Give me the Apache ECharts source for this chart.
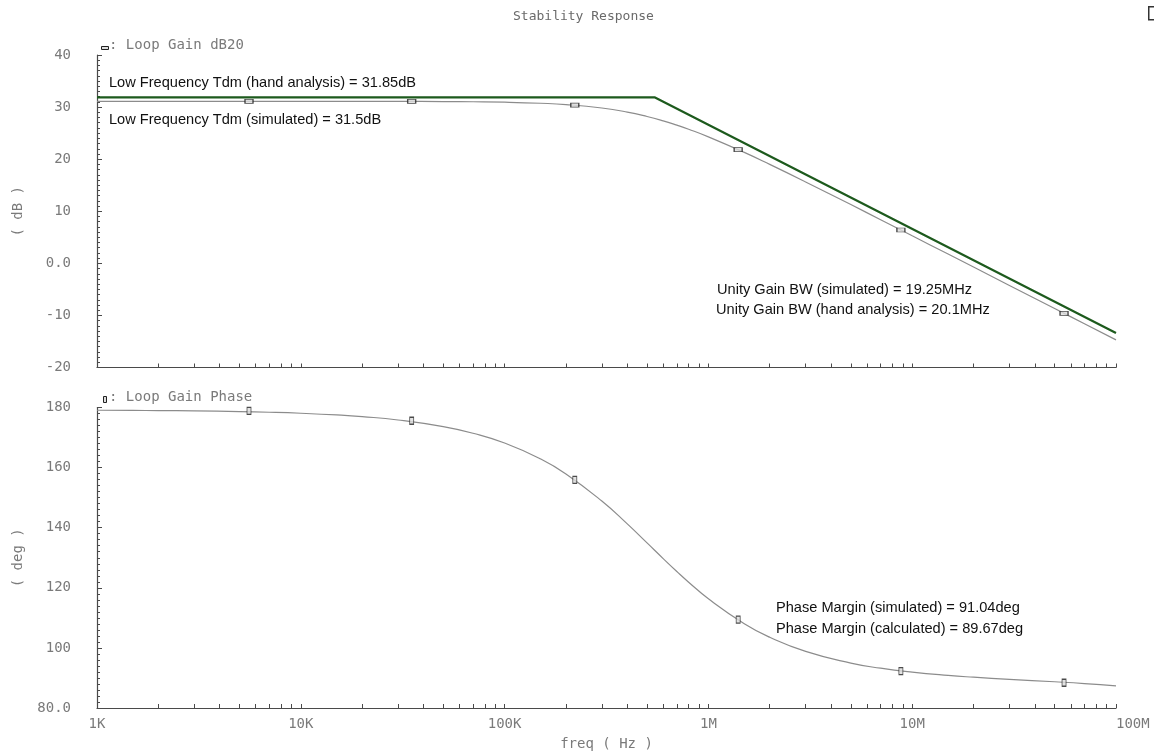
<!DOCTYPE html>
<html><head><meta charset="utf-8">
<script src="https://cdn.jsdelivr.net/npm/echarts@6/dist/echarts.min.js"></script>
<style>html,body{margin:0;padding:0;background:#fff}#c{width:1154px;height:752px}</style>
</head><body><div id="c"></div><script>
// ---- data ----
const freq = [1000,1500,2000,3000,5000,7000,10000,15000,20000,30000,50000,70000,
  100000,150000,200000,300000,400000,500000,600000,700000,800000,
  1000000,1500000,2000000,3000000,5000000,7000000,10000000,15000000,20000000,
  30000000,50000000,70000000,100000000];
const gainSim = [31.10,31.10,31.10,31.10,31.10,31.10,31.10,31.10,31.09,31.09,31.06,31.02,
  30.94,30.74,30.49,29.82,29.04,28.20,27.36,26.53,25.75,
  24.29,21.30,19.00,15.63,11.28,8.38,5.29,1.78,-0.72,
  -4.24,-8.68,-11.60,-14.70];
const phaseSim = [179.09,179.03,178.98,178.86,178.64,178.42,178.08,177.53,176.97,175.85,173.63,171.43,
  168.17,162.90,157.90,148.88,141.26,134.93,129.72,125.43,121.87,
  116.35,108.05,103.54,98.84,94.95,93.24,91.93,90.84,90.25,
  89.54,88.73,88.14,87.37];
const handFreq = [1000, 547000, 100000000];
const handGain = [31.85, 31.85, -13.39];
const markerFreq = [5570, 35000, 221000, 1400000, 8800000, 55600000];
const markerGain = [31.10, 31.09, 30.36, 21.83, 6.40, -9.60];
const markerPhase = [178.9, 175.6, 155.9, 109.4, 92.3, 88.4];
const xTickValues = [1000,2000,3000,4000,5000,6000,7000,8000,9000,
  10000,20000,30000,40000,50000,60000,70000,80000,90000,
  100000,200000,300000,400000,500000,600000,700000,800000,900000,
  1000000,2000000,3000000,4000000,5000000,6000000,7000000,8000000,9000000,
  10000000,20000000,30000000,40000000,50000000,60000000,70000000,80000000,90000000,100000000];
const xLabelValues = [1000,10000,100000,1000000,10000000,100000000];
const xLabels = ['1K','10K','100K','1M','10M','100M'];
const gainLabelMap = {'40':'40','30':'30','20':'20','10':'10','0':'0.0','-10':'-10','-20':'-20'};
const phaseLabelMap = {'180':'180','160':'160','140':'140','120':'120','100':'100','80':'80.0'};

const zip = (a, b) => a.map((v, i) => [v, b[i]]);
const monoFont = 'DejaVu Sans Mono';
const labelGray = '#7a7a7a';
const axisCol = '#4a4a4a';

function xAxis(gridIndex, showLabels) {
  return {
    type: 'log', logBase: 10, min: 1000, max: 100000000, gridIndex,
    axisLine: { show: true, onZero: false, lineStyle: { color: axisCol, width: 1.2 } },
    axisTick: { show: true, inside: true, length: 4, customValues: xTickValues, lineStyle: { color: axisCol } },
    splitLine: { show: false },
    axisLabel: {
      show: showLabels, customValues: xLabelValues, margin: 9,
      fontFamily: monoFont, fontSize: 14, color: labelGray, alignMaxLabel: 'left',
      formatter: v => { const i = xLabelValues.findIndex(x => Math.abs(x - v) / v < 1e-6); return i >= 0 ? xLabels[i] : ''; }
    },
    name: showLabels ? 'freq ( Hz )' : '', nameLocation: 'middle', nameGap: 29,
    nameTextStyle: { fontFamily: monoFont, fontSize: 14, color: labelGray }
  };
}
function yAxis(gridIndex, min, max, interval, map, name) {
  return {
    type: 'value', gridIndex, min, max, interval,
    axisLine: { show: true, onZero: false, lineStyle: { color: axisCol, width: 1.2 } },
    axisTick: { show: true, inside: true, length: 5, lineStyle: { color: axisCol } },
    minorTick: { show: true, splitNumber: 10, length: 3, lineStyle: { color: axisCol } },
    splitLine: { show: false },
    axisLabel: { margin: 26, fontFamily: monoFont, fontSize: 14, color: labelGray,
      formatter: v => map[String(v)] ?? String(v) },
    name, nameLocation: 'middle', nameGap: 72, nameRotate: 90,
    nameTextStyle: { fontFamily: monoFont, fontSize: 14, color: labelGray }
  };
}
const annFont = 'Liberation Sans';
function ann(x, y, text, size) {
  return { type: 'text', left: x, top: y - size / 2, style: { text, font: size + 'px "' + annFont + '"', fill: '#111' } };
}

const chart = echarts.init(document.getElementById('c'), null, { renderer: 'canvas' });
chart.setOption({
  backgroundColor: '#fff',
  animation: false,
  title: { text: 'Stability Response', left: 508, top: 5,
    textStyle: { fontFamily: monoFont, fontSize: 13, fontWeight: 'normal', color: '#6a6a6a' } },
  grid: [
    { left: 97, top: 55, width: 1019, height: 312.5 },
    { left: 97, top: 407.5, width: 1019, height: 305 }
  ],
  xAxis: [xAxis(0, false), xAxis(1, true)],
  yAxis: [
    yAxis(0, -20, 40, 10, gainLabelMap, '( dB )'),
    yAxis(1, 80, 180, 20, phaseLabelMap, '( deg )')
  ],
  series: [
    { type: 'line', xAxisIndex: 0, yAxisIndex: 0, data: zip(freq, gainSim), smooth: true, showSymbol: false,
      lineStyle: { color: '#8c8c8c', width: 1.2 }, z: 2 },
    { type: 'line', xAxisIndex: 0, yAxisIndex: 0, data: zip(handFreq, handGain), showSymbol: false,
      lineStyle: { color: '#1d5a1d', width: 2.2 }, z: 3 },
    { type: 'scatter', xAxisIndex: 0, yAxisIndex: 0, data: zip(markerFreq, markerGain),
      symbol: 'rect', symbolSize: [8, 4], itemStyle: { color: '#ddd', borderColor: '#222', borderWidth: 1 }, z: 4 },
    { type: 'line', xAxisIndex: 1, yAxisIndex: 1, data: zip(freq, phaseSim), smooth: true, showSymbol: false,
      lineStyle: { color: '#8c8c8c', width: 1.2 }, z: 2 },
    { type: 'scatter', xAxisIndex: 1, yAxisIndex: 1, data: zip(markerFreq, markerPhase),
      symbol: 'rect', symbolSize: [4, 7], itemStyle: { color: '#ddd', borderColor: '#222', borderWidth: 1 }, z: 4 }
  ],
  graphic: [
    { type: 'rect', left: 101, top: 46, shape: { width: 7, height: 3 }, style: { fill: '#ddd', stroke: '#222', lineWidth: 1 } },
    { type: 'text', left: 109, top: 38, style: { text: ': Loop Gain dB20', font: '14px "' + monoFont + '"', fill: labelGray } },
    { type: 'rect', left: 103, top: 396, shape: { width: 3, height: 6 }, style: { fill: '#ddd', stroke: '#222', lineWidth: 1 } },
    { type: 'text', left: 109, top: 390, style: { text: ': Loop Gain Phase', font: '14px "' + monoFont + '"', fill: labelGray } },
    ann(109, 83, 'Low Frequency Tdm (hand analysis) = 31.85dB', 14.6),
    ann(109, 120, 'Low Frequency Tdm (simulated) = 31.5dB', 14.6),
    ann(717, 290, 'Unity Gain BW (simulated) = 19.25MHz', 14.6),
    ann(716, 310, 'Unity Gain BW (hand analysis) = 20.1MHz', 14.6),
    ann(776, 608, 'Phase Margin (simulated) = 91.04deg', 14.6),
    ann(776, 629, 'Phase Margin (calculated) = 89.67deg', 14.6),
    { type: 'rect', left: 1148, top: 6, shape: { width: 10, height: 13 }, style: { fill: '#fff', stroke: '#333', lineWidth: 1.5 } }
  ]
});
</script></body></html>
